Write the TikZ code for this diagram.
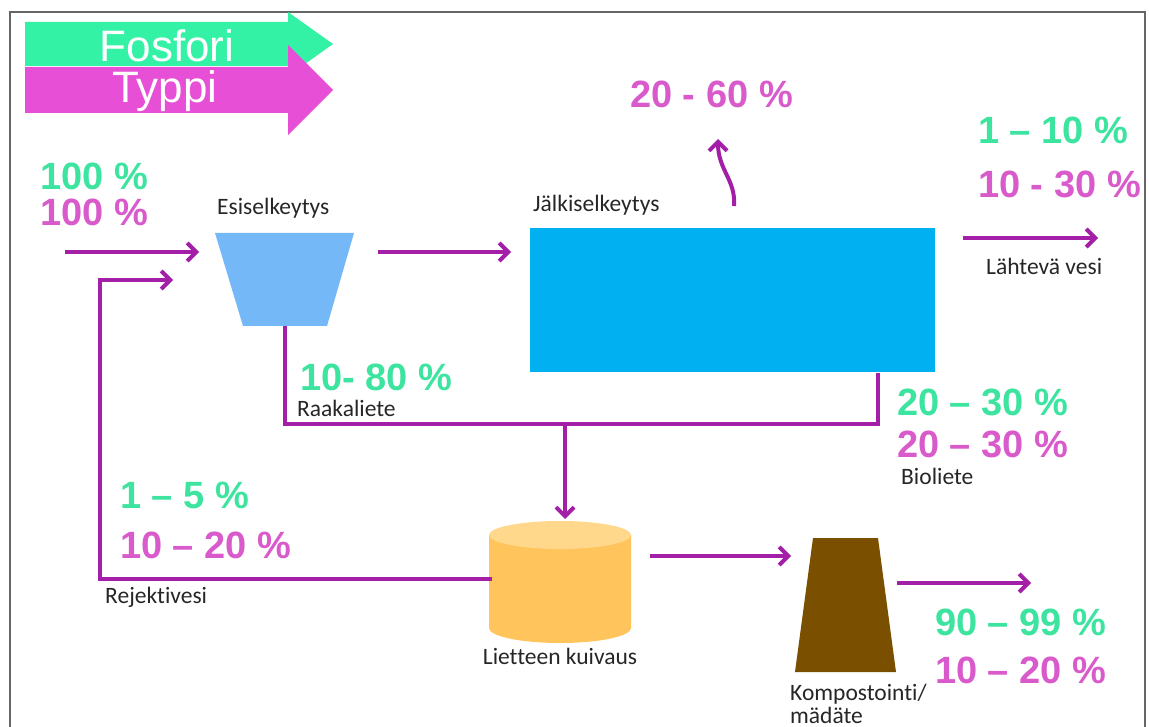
\documentclass[tikz,border=0pt]{standalone}
\usepackage{fontspec}
\setmainfont{Liberation Sans}
\newfontfamily\lab[Ligatures={NoCommon}]{Carlito}
\usetikzlibrary{arrows.meta}
\definecolor{legG}{HTML}{33F2A6}
\definecolor{legM}{HTML}{E64FD6}
\definecolor{pG}{HTML}{3DE4A0}
\definecolor{pM}{HTML}{D95BCB}
\definecolor{flowc}{HTML}{A31FA8}
\definecolor{esiC}{HTML}{74B8F8}
\definecolor{jalC}{HTML}{00B0F0}
\definecolor{cylB}{HTML}{FFC45C}
\definecolor{cylT}{HTML}{FFD88C}
\definecolor{kompC}{HTML}{7A4F00}
\definecolor{frameC}{HTML}{666666}
\tikzset{
  pct/.style={font=\fontsize{38}{38}\selectfont\bfseries, anchor=base west, inner sep=0pt},
  pg/.style={pct, text=pG},
  pm/.style={pct, text=pM},
  lbl/.style={font=\lab\fontsize{23.5}{23.5}\selectfont, anchor=base west, inner sep=0pt, text=black!85},
  legtxt/.style={font=\fontsize{44}{44}\selectfont, text=white, inner sep=0pt, anchor=base},
  flow/.style={draw=flowc, line width=4pt, -{Straight Barb[length=9pt,width=18pt]}},
  flowline/.style={draw=flowc, line width=4pt},
  hold/.style={inner sep=0pt, outer sep=0pt, draw=none}
}
\begin{document}
\begin{tikzpicture}[x=1pt,y=-1pt]
\useasboundingbox (0,0) rectangle (1149,727);
% frame
\draw[frameC, line width=1.5pt] (10,727) -- (10,12) -- (1145,12) -- (1145,727);

% legend arrows
\fill[legG] (25,22) -- (288,22) -- (288,12) -- (333,44) -- (288,76) -- (288,66) -- (25,66) -- cycle;
\fill[legM] (25,67) -- (288,67) -- (288,45) -- (333,90) -- (288,135) -- (288,113) -- (25,113) -- cycle;
\node[legtxt] (fos) at (167,62) {Fosfori};
\node[legtxt] (typ) at (165,103) {Typpi};

% shapes (holder nodes)
\node[hold, minimum width=139pt, minimum height=93pt] (esi) at (284.5,279.5) {};
\fill[esiC] (esi.north west) -- (esi.north east) -- ([xshift=-27pt]esi.south east) -- ([xshift=28pt]esi.south west) -- cycle;
\node[hold, fill=jalC, minimum width=405pt, minimum height=144pt] (jal) at (732.5,300) {};
\node[hold, minimum width=142pt, minimum height=122pt] (cyl) at (560,582) {};
\fill[cylB] (489,535) -- (489,628) arc[start angle=180, end angle=0, x radius=71, y radius=15] -- (631,535) -- cycle;
\fill[cylT] (560,535) ellipse [x radius=71, y radius=14];
\node[hold, minimum width=101pt, minimum height=134pt] (komp) at (845.5,605) {};
\fill[kompC] ([xshift=18pt]komp.north west) -- ([xshift=-18pt]komp.north east) -- (komp.south east) -- (komp.south west) -- cycle;

% coordinates
\coordinate (in0) at (65,252);
\coordinate (esiIn) at (199,252);
\coordinate (recIn) at (173,280);
\coordinate (recUp) at (100,280);
\coordinate (recLo) at (100,579);
\coordinate (cylW) at (492,579);
\coordinate (esiOut) at (378,252);
\coordinate (jalIn) at (511,252);
\coordinate (sl) at (565,424);
\coordinate (jb) at (878,373);
\coordinate (cylTop) at (565,519);
\coordinate (cylE) at (650,556);
\coordinate (kompIn) at (791,556);
\coordinate (kompOut) at (897,583);
\coordinate (end2) at (1031,583);
\coordinate (jalOut) at (963,238);
\coordinate (end1) at (1098,238);
\coordinate (gasA) at (734,206);
\coordinate (gasB) at (718,139);

% connectors
\draw[flow] (in0) -- (esiIn);
\draw[flow] (cylW) -- (recLo) -- (recUp) -- (recIn);
\draw[flow] (esiOut) -- (jalIn);
\draw[flowline] (esi.south) |- (sl) -| (jb);
\draw[flow] (sl) -- (cylTop);
\draw[flow] (cylE) -- (kompIn);
\draw[flow] (kompOut) -- (end2);
\draw[flow] (jalOut) -- (end1);
\draw[flow] (gasA) .. controls (736,180) and (718,170) .. (gasB);

% labels
\node[pg] (p1) at (40,190) {100 \%};
\node[pm] (p2) at (40,226) {100 \%};
\node[lbl] (l1) at (217,215) {Esiselkeytys};
\node[lbl] (l2) at (533,212) {Jälkiselkeytys};
\node[pm] (p3) at (630,108) {20 - 60 \%};
\node[pg] (p4) at (978,144) {1 – 10 \%};
\node[pm] (p5) at (978,198) {10 - 30 \%};
\node[lbl] (l3) at (986,275) {Lähtevä vesi};
\node[pg] (p6) at (300,390) {10- 80 \%};
\node[lbl] (l4) at (297,417) {Raakaliete};
\node[pg] (p7) at (897,415) {20 – 30 \%};
\node[pm] (p8) at (897,457) {20 – 30 \%};
\node[lbl] (l5) at (901,484) {Bioliete};
\node[pg] (p9) at (120,508) {1 – 5 \%};
\node[pm] (p10) at (120,558) {10 – 20 \%};
\node[lbl] (l6) at (105,603) {Rejektivesi};
\node[lbl, anchor=base] (l7) at (560,664) {Lietteen kuivaus};
\node[pg] (p11) at (935,635) {90 – 99 \%};
\node[pm] (p12) at (935,683) {10 – 20 \%};
\node[lbl] (l8) at (790,700) {Kompostointi/};
\node[lbl] (l9) at (790,723) {mädäte};
\end{tikzpicture}
\end{document}
